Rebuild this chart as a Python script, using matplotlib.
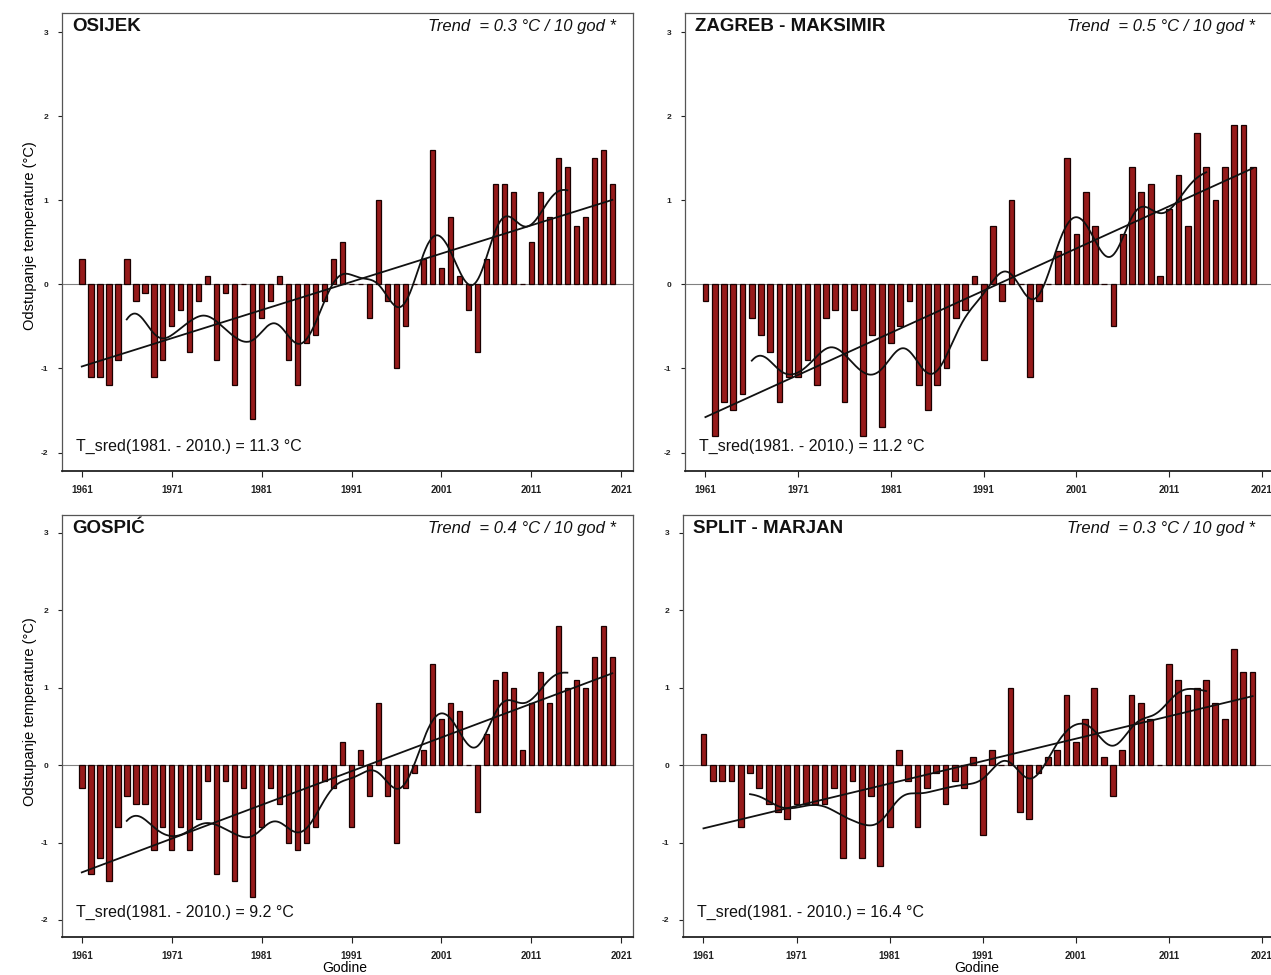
import numpy as np
import matplotlib
matplotlib.use("Agg")
import matplotlib.pyplot as plt

plt.rcParams['font.family'] = ['Liberation Sans', 'DejaVu Sans']

years = list(range(1961, 2021))

osijek = [0.3, -1.1, -1.1, -1.2, -0.9, 0.3, -0.2, -0.1, -1.1, -0.9,
          -0.5, -0.3, -0.8, -0.2, 0.1, -0.9, -0.1, -1.2, 0.0, -1.6,
          -0.4, -0.2, 0.1, -0.9, -1.2, -0.7, -0.6, -0.2, 0.3, 0.5,
          0.0, 0.0, -0.4, 1.0, -0.2, -1.0, -0.5, 0.0, 0.3, 1.6,
          0.2, 0.8, 0.1, -0.3, -0.8, 0.3, 1.2, 1.2, 1.1, 0.0,
          0.5, 1.1, 0.8, 1.5, 1.4, 0.7, 0.8, 1.5, 1.6, 1.2]

zagreb = [-0.2, -1.8, -1.4, -1.5, -1.3, -0.4, -0.6, -0.8, -1.4, -1.1,
          -1.1, -0.9, -1.2, -0.4, -0.3, -1.4, -0.3, -1.8, -0.6, -1.7,
          -0.7, -0.5, -0.2, -1.2, -1.5, -1.2, -1.0, -0.4, -0.3, 0.1,
          -0.9, 0.7, -0.2, 1.0, 0.0, -1.1, -0.2, 0.0, 0.4, 1.5,
          0.6, 1.1, 0.7, 0.0, -0.5, 0.6, 1.4, 1.1, 1.2, 0.1,
          0.9, 1.3, 0.7, 1.8, 1.4, 1.0, 1.4, 1.9, 1.9, 1.4]

gospic = [-0.3, -1.4, -1.2, -1.5, -0.8, -0.4, -0.5, -0.5, -1.1, -0.8,
          -1.1, -0.8, -1.1, -0.7, -0.2, -1.4, -0.2, -1.5, -0.3, -1.7,
          -0.8, -0.3, -0.5, -1.0, -1.1, -1.0, -0.8, -0.2, -0.3, 0.3,
          -0.8, 0.2, -0.4, 0.8, -0.4, -1.0, -0.3, -0.1, 0.2, 1.3,
          0.6, 0.8, 0.7, 0.0, -0.6, 0.4, 1.1, 1.2, 1.0, 0.2,
          0.8, 1.2, 0.8, 1.8, 1.0, 1.1, 1.0, 1.4, 1.8, 1.4]

split = [0.4, -0.2, -0.2, -0.2, -0.8, -0.1, -0.3, -0.5, -0.6, -0.7,
         -0.5, -0.5, -0.5, -0.5, -0.3, -1.2, -0.2, -1.2, -0.4, -1.3,
         -0.8, 0.2, -0.2, -0.8, -0.3, -0.1, -0.5, -0.2, -0.3, 0.1,
         -0.9, 0.2, 0.0, 1.0, -0.6, -0.7, -0.1, 0.1, 0.2, 0.9,
         0.3, 0.6, 1.0, 0.1, -0.4, 0.2, 0.9, 0.8, 0.6, 0.0,
         1.3, 1.1, 0.9, 1.0, 1.1, 0.8, 0.6, 1.5, 1.2, 1.2]

stations = ["OSIJEK", "ZAGREB - MAKSIMIR", "GOSPIĆ", "SPLIT - MARJAN"]
trends = ["0.3", "0.5", "0.4", "0.3"]
t_sred = ["11.3", "11.2", "9.2", "16.4"]
xticks = [1961, 1971, 1981, 1991, 2001, 2011, 2021]
yticks = [-2, -1, 0, 1, 2, 3]
series = [osijek, zagreb, gospic, split]

W, H = 1271, 975
fig = plt.figure(figsize=(W / 100, H / 100), dpi=100)

# axes boxes in pixels: (left, top, right, bottom)
boxes = [(62, 13, 633, 471), (685, 13, 1274, 471),
         (62, 515, 633, 937), (683, 515, 1274, 937)]


def smooth(yrs, vals, sigma=1.6, half=5, step=0.1):
    yrs = np.asarray(yrs, float)
    vals = np.asarray(vals, float)
    t = np.arange(yrs[0] + half, yrs[-1] - half + 1e-9, step)
    out = []
    for c in t:
        w = np.exp(-0.5 * ((yrs - c) / sigma) ** 2)
        w[np.abs(yrs - c) > half + 0.5] = 0
        out.append(np.sum(w * vals) / np.sum(w))
    return t, np.array(out)


for i, (vals, box) in enumerate(zip(series, boxes)):
    l, t, r, b = box
    ax = fig.add_axes([l / W, 1 - b / H, (r - l) / W, (b - t) / H])
    ax.axhline(0, color="#808080", lw=0.8, zorder=1)
    ax.bar(years, vals, width=0.62, color="#961a1a", edgecolor="#1a0000",
           linewidth=0.9, zorder=2)
    coef = np.polyfit(years, vals, 1)
    ty = [years[0], years[-1]]
    ax.plot(ty, np.polyval(coef, ty), color="#111111", lw=1.3, zorder=3)
    sx, sy = smooth(years, vals)
    ax.plot(sx, sy, color="#111111", lw=1.3, zorder=3)

    ax.set_xlim(1958.8, 2022.3)
    ax.set_ylim(-2.22, 3.23)
    ax.set_xticks(xticks)
    ax.set_xticklabels([str(x) for x in xticks], fontsize=7, fontweight="bold")
    ax.set_yticks(yticks)
    ax.set_yticklabels([str(y) for y in yticks], fontsize=6, fontweight="bold")
    ax.tick_params(axis="x", length=4, width=0.8, pad=6, colors="#222222")
    ax.tick_params(axis="y", length=3, width=0.8, pad=7, colors="#222222")
    for s in ax.spines.values():
        s.set_color("#555555")
        s.set_linewidth(0.9)
    ax.spines["bottom"].set_color("#222222")
    ax.spines["bottom"].set_linewidth(1.3)

    aw = r - l
    ah = b - t
    ax.text(10 / aw, 1 - 5 / ah, stations[i], transform=ax.transAxes,
            ha="left", va="top", fontsize=13.5, fontweight="bold", color="#111111")
    ax.text(1 - (17 if i % 2 == 0 else 19) / aw, 1 - 6 / ah,
            "Trend  = " + trends[i] + " °C / 10 god *", transform=ax.transAxes,
            ha="right", va="top", fontsize=12, fontstyle="italic", color="#111111")
    ax.text(14 / aw, 25 / ah, "T_sred(1981. - 2010.) = " + t_sred[i] + " °C",
            transform=ax.transAxes, ha="left", va="center", fontsize=11.5,
            color="#111111")

fig.text(30 / W, 1 - 236 / H, "Odstupanje temperature (°C)", rotation=90,
         ha="center", va="center", fontsize=10.5)
fig.text(30 / W, 1 - 712 / H, "Odstupanje temperature (°C)", rotation=90,
         ha="center", va="center", fontsize=10.5)
fig.text(345 / W, 1 - 968 / H, "Godine", ha="center", va="center", fontsize=10)
fig.text(977 / W, 1 - 968 / H, "Godine", ha="center", va="center", fontsize=10)

fig.savefig("out.png", dpi=100)
